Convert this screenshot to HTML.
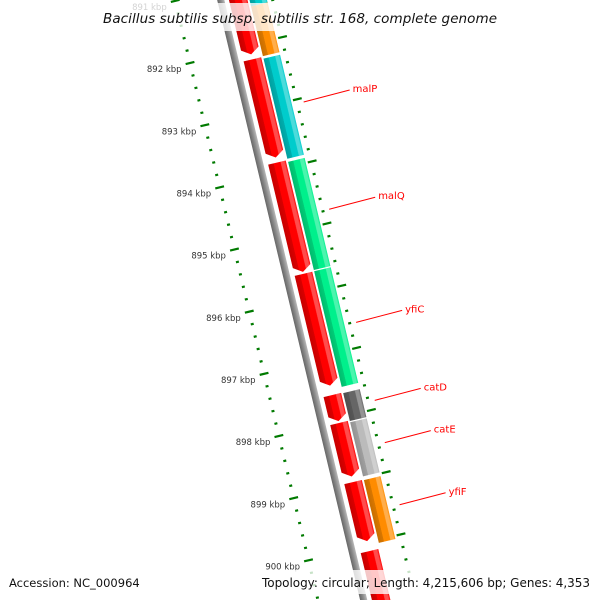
<!DOCTYPE html>
<html><head><meta charset="utf-8"><style>
html,body{margin:0;padding:0;background:#fff;overflow:hidden;width:600px;height:600px;}
svg{display:block;overflow:hidden;}
</style></head><body>
<svg id="map" width="600" height="600" viewBox="0 0 600 600" xmlns="http://www.w3.org/2000/svg">
<defs>
<clipPath id="clip"><rect x="0" y="0" width="600" height="600"/></clipPath>
<linearGradient id="shade" x1="0" y1="0" x2="1" y2="0">
<stop offset="0" stop-color="#000" stop-opacity="0.22"/>
<stop offset="0.3" stop-color="#000" stop-opacity="0.15"/>
<stop offset="0.32" stop-color="#000" stop-opacity="0"/>
<stop offset="0.68" stop-color="#fff" stop-opacity="0"/>
<stop offset="0.72" stop-color="#fff" stop-opacity="0.3"/>
<stop offset="0.9" stop-color="#fff" stop-opacity="0.3"/>
<stop offset="1" stop-color="#fff" stop-opacity="0"/>
</linearGradient>
<linearGradient id="bbshade" x1="0" y1="0" x2="1" y2="0">
<stop offset="0" stop-color="#666"/>
<stop offset="0.5" stop-color="#8a8a8a"/>
<stop offset="1" stop-color="#b8b8b8"/>
</linearGradient>
</defs>
<g clip-path="url(#clip)">
<g id="frame" transform="translate(236,64) rotate(-13.4)"></g>
<g id="labels"></g>
</g>
<g>
<rect x="98" y="3" width="404" height="28" fill="#fff" opacity="0.78"/>
<text x="300" y="23" text-anchor="middle" font-family="DejaVu Sans, Liberation Sans, sans-serif" font-style="italic" font-size="13.5" textLength="394" fill="#111">Bacillus subtilis subsp. subtilis str. 168, complete genome</text>
</g>
<g>
<rect x="4" y="570" width="122" height="24" fill="#fff" opacity="0.78"/>
<text x="9" y="587" font-family="DejaVu Sans, Liberation Sans, sans-serif" font-size="11.5" fill="#111">Accession: NC_000964</text>
<rect x="257" y="570" width="339" height="24" fill="#fff" opacity="0.78"/>
<text x="590" y="587" text-anchor="end" font-family="DejaVu Sans, Liberation Sans, sans-serif" font-size="12" textLength="328" fill="#111">Topology: circular; Length: 4,215,606 bp; Genes: 4,353</text>
</g>
</svg>
<script>
// ---- data (kbp) ----
const forwardStarts = [890.5, 892.17, 893.83, 895.62, 897.57, 898.02, 898.97, 900.08];
const forwardEnds   = [892.09, 893.75, 895.59, 897.42, 897.99, 898.88, 899.92, 901.0];
const geneNames  = ['', 'yfhA', 'malP', 'malQ', 'yfiC', 'catD', 'catE', 'yfiF'];
const geneStarts = [890.6, 891.36, 892.20, 893.86, 895.62, 897.58, 898.05, 898.98];
const geneEnds   = [891.36, 892.16, 893.81, 895.60, 897.48, 898.03, 898.92, 899.99];
const geneColors = ['#00cccc', '#ff8c00', '#00cccc', '#00f08c', '#00f08c', '#666666', '#bbbbbb', '#ff8c00'];
const labeledGenes = ['malP', 'malQ', 'yfiC', 'catD', 'catE', 'yfiF'];
const innerMajorTicks = [891, 892, 893, 894, 895, 896, 897, 898, 899, 900, 901];
const outerMajorTicks = [890.94, 891.94, 892.94, 893.94, 894.94, 895.94, 896.94, 897.94, 898.94, 899.94];

// ---- scales ----
const PX_PER_KBP = 63.9, U0 = -11.6;
const SIN = Math.sin(13.4 * Math.PI / 180), COS = Math.cos(13.4 * Math.PI / 180);
function uScale(p) { return (p - 892) * PX_PER_KBP + U0; }
function toScreen(u, v) { return [236 + u * SIN + v * COS, 64 + u * COS - v * SIN]; }
const NS = 'http://www.w3.org/2000/svg';
const frame = document.getElementById('frame');
const labels = document.getElementById('labels');
function mk(tag, attrs, parent) {
  const e = document.createElementNS(NS, tag);
  for (const k in attrs) e.setAttribute(k, attrs[k]);
  parent.appendChild(e);
  return e;
}

// backbone
const bb = mk('rect', {x: -3.5, y: -80, width: 7, height: 640, fill: 'url(#bbshade)'}, frame);



// inner ruler
for (let t = 890.8; t <= 900.81; t += 0.2) {
  const tt = Math.round(t * 10) / 10;
  const isMajor = innerMajorTicks.indexOf(tt) >= 0;
  const u = uScale(tt);
  const ln = mk('line', {x1: isMajor ? -49 : -46, x2: isMajor ? -40 : -43, y1: u, y2: u, stroke: '#007a00', 'stroke-width': 2.2}, frame);
  
  
  if (isMajor) {
    const [sx, sy] = toScreen(u, -45);
    const tx = mk('text', {x: sx - 8, y: sy + 9, 'text-anchor': 'end', 'font-family': 'DejaVu Sans, Liberation Sans, sans-serif', 'font-size': 8.5, fill: '#333'}, labels);
    tx.textContent = tt + ' kbp';
    
    
  }
}
// outer ruler
for (let t = 890.74; t <= 900.6; t += 0.2) {
  const tt = Math.round(t * 100) / 100;
  const isMajor = outerMajorTicks.some(m => Math.abs(m - tt) < 0.01);
  const u = uScale(tt);
  const ln = mk('line', {x1: isMajor ? 47 : 49, x2: isMajor ? 56 : 52, y1: u, y2: u, stroke: '#007a00', 'stroke-width': 2.2}, frame);
  
  
}

// forward strand arrows (red)
for (let i = 0; i < forwardStarts.length; i++) {
  const u1 = uScale(forwardStarts[i]), u2 = uScale(forwardEnds[i]);
  const v1 = 8, v2 = 26, head = 6;
  const pts = `${v1},${u1} ${v2},${u1} ${v2},${u2 - head} ${(v1 + v2) / 2},${u2} ${v1},${u2 - head}`;
  const g = mk('g', {}, frame);
  
  
  mk('polygon', {points: pts, fill: '#ff0000'}, g);
  mk('polygon', {points: pts, fill: 'url(#shade)'}, g);
}
// colored genes
for (let i = 0; i < geneStarts.length; i++) {
  const u1 = uScale(geneStarts[i]), u2 = uScale(geneEnds[i]);
  const g = mk('g', {}, frame);
  
  
  mk('rect', {x: 28, y: u1, width: 17, height: u2 - u1, fill: geneColors[i]}, g);
  mk('rect', {x: 28, y: u1, width: 17, height: u2 - u1, fill: 'url(#shade)'}, g);
  if (labeledGenes.indexOf(geneNames[i]) >= 0) {
    const [sx, sy] = toScreen((u1 + u2) / 2, 57);
    const ex = sx + 46, ey = sy - 12;
    const l = mk('line', {x1: sx, y1: sy, x2: ex, y2: ey, stroke: '#ff0000', 'stroke-width': 1}, labels);
    
    
    const t = mk('text', {x: ex + 3, y: ey + 2, 'font-family': 'DejaVu Sans, Liberation Sans, sans-serif', 'font-size': 10, fill: '#ff0000'}, labels);
    t.textContent = geneNames[i];
    
    
  }
}
</script>
</body></html>
